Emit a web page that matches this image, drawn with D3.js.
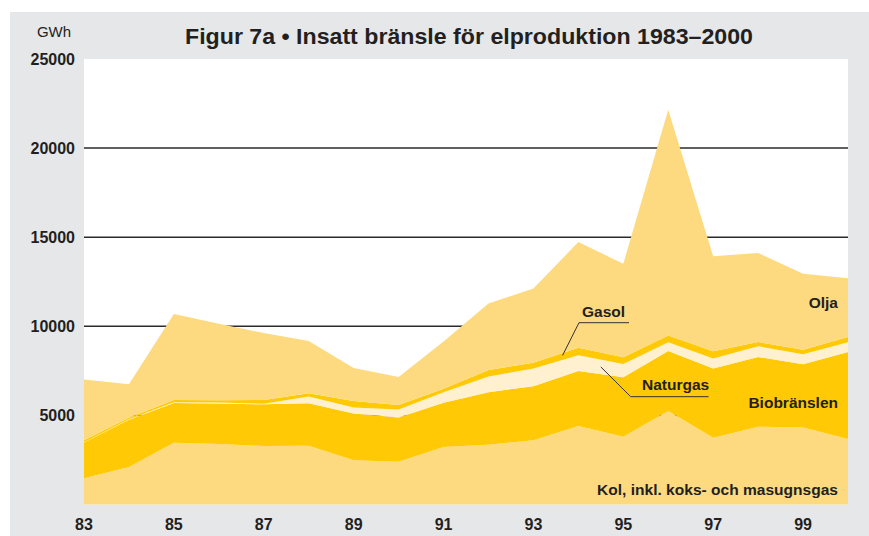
<!DOCTYPE html>
<html>
<head>
<meta charset="utf-8">
<script src="https://cdn.jsdelivr.net/npm/d3@7"></script>
<style>
    html, body { margin: 0; padding: 0; background: #ffffff; }
    svg { display: block; }
    text { font-family: "Liberation Sans", Arial, Helvetica, sans-serif; fill: #231f20; }
</style>
</head>
<body>
<div id="chart"></div>
<script>
"use strict";

// years 1983 - 2000
const years = [ 1983, 1984, 1985, 1986, 1987, 1988, 1989, 1990, 1991, 1992,
                1993, 1994, 1995, 1996, 1997, 1998, 1999, 2000 ];

// GWh per fuel, stacked bottom to top
const kol        = [ 1480, 2100, 3460, 3390, 3280, 3300, 2490, 2400, 3220, 3350, 3610, 4400, 3800, 5240, 3740, 4360, 4320, 3670 ];
const bio        = [ 2000, 2650, 2240, 2280, 2340, 2380, 2620, 2480, 2490, 2950, 3030, 3090, 3340, 3370, 3890, 3920, 3550, 4890 ];
const naturgas   = [   20,   30,   40,   50,   40,  380,  330,  450,  590,  880,  990,  880,  750,  500,  560,  600,  560,  540 ];
const gasol      = [  100,   90,  130,  130,  210,  180,  370,  260,  200,  370,  330,  420,  370,  380,  410,  240,  260,  300 ];
const olja       = [ 3410, 1880, 4820, 4300, 3750, 2930, 1850, 1560, 2650, 3730, 4160, 5940, 5250,12660, 5330, 5000, 4260, 3300 ];

const yTicks = [ 5000, 10000, 15000, 20000, 25000 ];
const xTicks = [ 1983, 1985, 1987, 1989, 1991, 1993, 1995, 1997, 1999 ];

const seriesKeys   = [ "kol", "bio", "naturgas", "gasol", "olja" ];
const seriesColors = { kol: "#fdda80", bio: "#ffca05", naturgas: "#fff0cf", gasol: "#ffca05", olja: "#fdda80" };

const title = "Figur 7a \u2022 Insatt br\u00e4nsle f\u00f6r elproduktion 1983\u20132000";

const width = 869, height = 536;
const margin = { top: 59, right: 21, bottom: 31.5, left: 84 };

const svg = d3.select( "#chart" )
    .append( "svg" )
    .attr( "width", width )
    .attr( "height", height );

// gray panel behind everything
svg.append( "rect" )
    .attr( "x", 10 ).attr( "y", 12 )
    .attr( "width", width - 10 ).attr( "height", height - 12 )
    .attr( "fill", "#e6e7e9" );

const x = d3.scaleLinear()
    .domain( [ 1983, 2000 ] )
    .range( [ margin.left, width - margin.right ] );

const y = d3.scaleLinear()
    .domain( [ 0, 25000 ] )
    .range( [ height - margin.bottom, margin.top ] );

// white plot area
svg.append( "rect" )
    .attr( "x", x( 1983 ) ).attr( "y", y( 25000 ) )
    .attr( "width", x( 2000 ) - x( 1983 ) )
    .attr( "height", y( 0 ) - y( 25000 ) )
    .attr( "fill", "#ffffff" );

// grid lines (drawn under the areas)
svg.append( "g" )
    .selectAll( "line" )
    .data( yTicks.filter( d => d < 25000 ) )
    .join( "line" )
    .attr( "x1", x( 1983 ) ).attr( "x2", x( 2000 ) )
    .attr( "y1", d => y( d ) ).attr( "y2", d => y( d ) )
    .attr( "stroke", "#2b2b2b" )
    .attr( "stroke-width", 1.5 );

// stacked areas
const table = years.map( ( yr, i ) => ( {
    year: yr, kol: kol[ i ], bio: bio[ i ], naturgas: naturgas[ i ], gasol: gasol[ i ], olja: olja[ i ]
} ) );

const stacked = d3.stack().keys( seriesKeys )( table );

const area = d3.area()
    .x( d => x( d.data.year ) )
    .y0( d => y( d[ 0 ] ) )
    .y1( d => y( d[ 1 ] ) );

svg.append( "g" )
    .selectAll( "path" )
    .data( stacked )
    .join( "path" )
    .attr( "fill", d => seriesColors[ d.key ] )
    .attr( "d", area );

// y axis labels
svg.append( "g" )
    .selectAll( "text" )
    .data( yTicks )
    .join( "text" )
    .attr( "x", 75 )
    .attr( "y", d => y( d ) )
    .attr( "dy", "0.36em" )
    .attr( "text-anchor", "end" )
    .attr( "font-size", 16 )
    .attr( "font-weight", "bold" )
    .text( d => d );

// x axis labels
svg.append( "g" )
    .selectAll( "text" )
    .data( xTicks )
    .join( "text" )
    .attr( "x", d => x( d ) )
    .attr( "y", 529.5 )
    .attr( "text-anchor", "middle" )
    .attr( "font-size", 16 )
    .attr( "font-weight", "bold" )
    .text( d => String( d ).slice( 2 ) );

// unit + title
svg.append( "text" )
    .attr( "x", 54 ).attr( "y", 37 )
    .attr( "text-anchor", "middle" )
    .attr( "font-size", 15 )
    .text( "GWh" );

svg.append( "text" )
    .attr( "x", 185 ).attr( "y", 44 )
    .attr( "font-size", 22.5 )
    .attr( "font-weight", "bold" )
    .attr( "textLength", 568 )
    .attr( "lengthAdjust", "spacingAndGlyphs" )
    .text( title );

// series labels, right aligned inside the plot
const rightLabels = [
    { text: "Olja",        value: 11000 },
    { text: "Biobr\u00e4nslen", value: 5400 },
    { text: "Kol, inkl. koks- och masugnsgas", value: 550, len: 241 }
];

rightLabels.forEach( function( l ) {
    const t = svg.append( "text" )
        .attr( "x", x( 2000 ) - 10 )
        .attr( "y", y( l.value ) )
        .attr( "text-anchor", "end" )
        .attr( "font-size", 15.5 )
        .attr( "font-weight", "bold" )
        .text( l.text );
    if( l.len ) {
        t.attr( "textLength", l.len ).attr( "lengthAdjust", "spacingAndGlyphs" );
    }
});

// labels with leader lines pointing into the thin bands
const leaders = [
    { text: "Gasol",    year: 1993.65, value: 8370, lx: 582, ly: 317, ux0: 579, ux1: 629, uy: 322.7 },
    { text: "Naturgas", year: 1994.5,  value: 7720, lx: 642, ly: 390, ux0: 630.7, ux1: 708.5, uy: 396.7 }
];

leaders.forEach( function( l ) {
    svg.append( "text" )
        .attr( "x", l.lx ).attr( "y", l.ly )
        .attr( "font-size", 15.5 )
        .attr( "font-weight", "bold" )
        .text( l.text );

    svg.append( "polyline" )
        .attr( "points", [ [ l.ux1, l.uy ], [ l.ux0, l.uy ], [ x( l.year ), y( l.value ) ] ].join( " " ) )
        .attr( "fill", "none" )
        .attr( "stroke", "#333333" )
        .attr( "stroke-width", 1 );
});
</script>
</body>
</html>
